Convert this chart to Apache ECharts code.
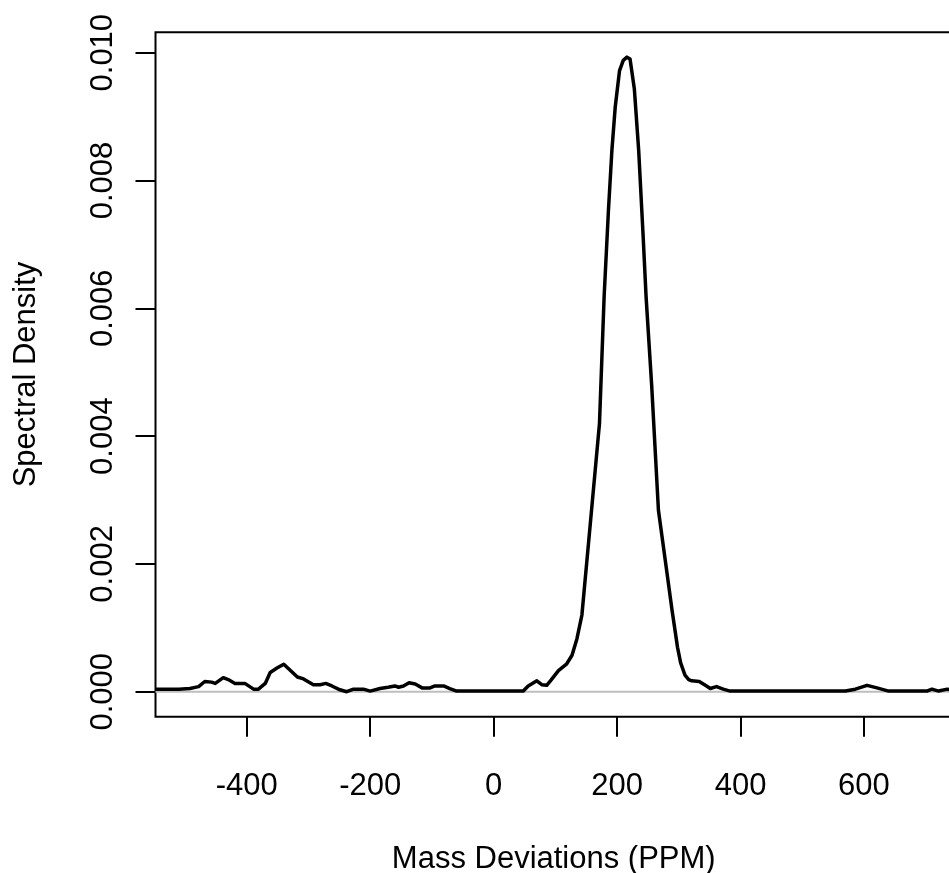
<!DOCTYPE html>
<html><head><meta charset="utf-8">
<script src="https://cdn.jsdelivr.net/npm/echarts@6/dist/echarts.min.js"></script>
<style>html,body{margin:0;padding:0;background:#fff}#c{width:949px;height:873px}</style>
</head><body><div id="c"></div>
<script>
// Data
const ppm = [-548,-530,-510,-492,-478,-468,-457,-451,-438,-430,-419,-403,-389,-381,-370,-362,-351,-340,-330,-318,-308,-292,-281,-272,-262,-249,-238,-227,-211,-200,-184,-171,-160,-154,-146,-137,-127,-116,-103,-95,-81,-71,-60,-40,-20,0,21,24,32,48,56,70,78,86,92,105,118,127,135,143,157,171.5,179,186,191.6,197,204,210,216,221,228,235,242,247,256,267,278,289,298,303,310,316,321,333,343,351,361,372,383,400,450,500,550,570,586,605,621,640,660,680,702,710,721,735,742];
const density = [0.00004,0.00004,0.00004,0.00005,0.00008,0.00016,0.00015,0.00013,0.00022,0.00019,0.00013,0.00013,0.00004,0.00004,0.00013,0.00030,0.00037,0.00043,0.00034,0.00023,0.00020,0.00011,0.00011,0.00013,0.00009,0.00003,0.00000,0.00004,0.00004,0.00001,0.00005,0.00007,0.00009,0.00007,0.00009,0.00014,0.00012,0.00006,0.00006,0.00009,0.00009,0.00005,0.00001,0.00001,0.00001,0.00001,0.00001,0.00004,0.00001,0.00001,0.00009,0.00017,0.00011,0.00010,0.00017,0.00033,0.00043,0.00057,0.00083,0.00120,0.00267,0.00420,0.00618,0.00753,0.00847,0.00915,0.00972,0.00988,0.00993,0.00990,0.00943,0.00847,0.00717,0.00618,0.00480,0.00284,0.00206,0.00128,0.00069,0.00045,0.00026,0.00019,0.00017,0.00016,0.00010,0.00005,0.00008,0.00004,0.00001,0.00001,0.00001,0.00001,0.00001,0.00001,0.00004,0.00010,0.00006,0.00001,0.00001,0.00001,0.00001,0.00004,0.00001,0.00004,0.00003];
const xTicks = [-400,-200,0,200,400,600];
const yTicks = [0,0.002,0.004,0.006,0.008,0.010];
const xRange = [-547.8, 742.6];
const yRange = [-0.000391, 0.010319];
const zeroLineY = [0, 0];

const FONT = 'Liberation Sans, Arial, Helvetica, sans-serif';
const curve = ppm.map((x, i) => [x, density[i]]);
const zeroLine = xRange.map((x, i) => [x, zeroLineY[i]]);

const chart = echarts.init(document.getElementById('c'), null, {renderer: 'canvas'});
chart.setOption({
  animation: false,
  backgroundColor: '#fff',
  grid: {left: 155.5, top: 32.3, right: -3, bottom: 156.3, show: true,
         containLabel: false, outerBoundsMode: 'none',
         borderColor: '#000', borderWidth: 2, backgroundColor: 'transparent'},
  xAxis: {
    type: 'value', min: xRange[0], max: xRange[1], position: 'bottom',
    name: 'Mass Deviations (PPM)', nameLocation: 'middle', nameGap: 127,
    nameTextStyle: {fontSize: 31, color: '#000', fontFamily: FONT},
    axisLine: {show: false, onZero: false},
    splitLine: {show: false},
    axisTick: {show: true, inside: false, length: 20, customValues: xTicks,
               lineStyle: {color: '#000', width: 2}},
    axisLabel: {customValues: xTicks, fontSize: 31, color: '#000', fontFamily: FONT,
                margin: 54, formatter: v => String(v)}
  },
  yAxis: {
    type: 'value', min: yRange[0], max: yRange[1], position: 'left',
    name: 'Spectral Density', nameLocation: 'middle', nameGap: 114,
    nameTextStyle: {fontSize: 31, color: '#000', fontFamily: FONT},
    axisLine: {show: false, onZero: false},
    splitLine: {show: false},
    axisTick: {show: true, inside: false, length: 20, customValues: yTicks,
               lineStyle: {color: '#000', width: 2}},
    axisLabel: {customValues: yTicks, rotate: 90, fontSize: 31, color: '#000', fontFamily: FONT,
                margin: 36.5, formatter: v => v.toFixed(3)}
  },
  series: [
    {type: 'line', data: zeroLine, showSymbol: false, silent: true,
     lineStyle: {color: '#bebebe', width: 2}},
    {type: 'line', data: curve, showSymbol: false, silent: true, clip: true,
     lineStyle: {color: '#000', width: 3.5, join: 'round'}}
  ]
});
</script>
</body></html>
